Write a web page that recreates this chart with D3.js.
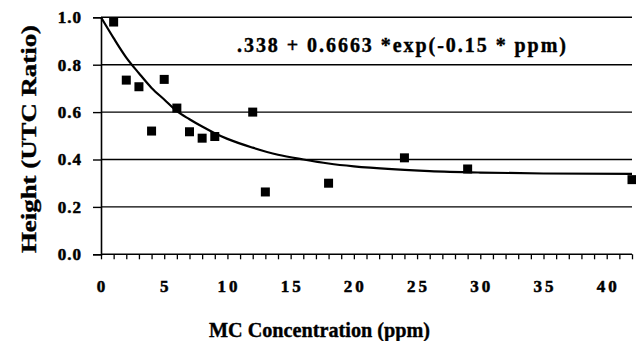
<!DOCTYPE html>
<html><head><meta charset="utf-8">
<script src="https://cdn.jsdelivr.net/npm/d3@7"></script>
<style>body{margin:0;background:#fff}svg{display:block}</style>
</head><body><div id="chart"></div>
<script>
// Observed data points
const ppm = [1, 2, 3, 4, 5, 6, 7, 8, 9, 12, 13, 18, 24, 29, 42];
const height = [0.98, 0.735, 0.707, 0.52, 0.738, 0.617, 0.517, 0.49, 0.497, 0.60, 0.263, 0.30, 0.407, 0.36, 0.315];
// Fitted curve
const fitX = [0, 1, 2, 3, 4, 5, 6, 7, 8, 9, 10, 12, 14, 16, 18, 20, 23, 26, 30, 35, 42];
const fitY = [1.0, 0.912, 0.83, 0.764, 0.702, 0.653, 0.604, 0.57, 0.539, 0.511, 0.487, 0.45, 0.42, 0.4, 0.383, 0.371, 0.359, 0.351, 0.345, 0.341, 0.339];
const yTicks = [0, 0.2, 0.4, 0.6, 0.8, 1.0];
const xTicks = [0, 5, 10, 15, 20, 25, 30, 35, 40];
const equation = ".338 + 0.6663 *exp(-0.15 * ppm)";
const xTitle = "MC Concentration (ppm)";
const yTitle = "Height (UTC Ratio)";

const FONT = "'Liberation Serif', 'Times New Roman', Times, 'DejaVu Serif', serif";
const W = 636, H = 341;
const svg = d3.select("#chart").append("svg").attr("width", W).attr("height", H)
  .attr("font-family", FONT).attr("font-weight", "bold");
const x = d3.scaleLinear().domain([0, 42]).range([101, 632]);
const y = d3.scaleLinear().domain([0, 1]).range([254.3, 17.3]);

// gridlines
svg.append("g").selectAll("line").data(yTicks.filter(d => d > 0)).join("line")
  .attr("x1", x(0)).attr("x2", x(42)).attr("y1", d => y(d)).attr("y2", d => y(d))
  .attr("stroke", "#000").attr("stroke-width", 1.4);

// y axis
const yAxis = d3.axisLeft(y).tickValues(yTicks).tickFormat(d3.format(".1f")).tickSize(8).tickPadding(11);
const gy = svg.append("g").attr("transform", `translate(${x(0)},0)`).call(yAxis)
  .attr("font-family", FONT).attr("font-size", 17).attr("font-weight", "bold");
gy.select(".domain").attr("stroke-width", 1.6);
gy.selectAll(".tick line").attr("stroke-width", 1.4);
gy.selectAll(".tick text").attr("letter-spacing", "1px")
  .attr("stroke", "#000").attr("stroke-width", 0.5);

// x axis
const xAxis = d3.axisBottom(x).tickValues(d3.range(0, 43, 1)).tickSize(5).tickFormat("");
const gx = svg.append("g").attr("transform", `translate(0,${y(0)})`).call(xAxis);
gx.select(".domain").attr("stroke-width", 1.6).attr("d", `M${x(0)},0H${x(42)}`);
gx.selectAll(".tick line").attr("stroke-width", 1.3);
svg.append("g").selectAll("text").data(xTicks).join("text")
  .attr("x", d => x(d) + 1.5).attr("y", 292).attr("text-anchor", "middle")
  .attr("font-size", 17).attr("letter-spacing", "3px")
  .attr("stroke", "#000").attr("stroke-width", 0.5)
  .text(d => d);

// fit curve
const line = d3.line().x((d, i) => x(fitX[i])).y(d => y(d)).curve(d3.curveMonotoneX);
svg.append("path").datum(fitY).attr("d", line).attr("fill", "none")
  .attr("stroke", "#000").attr("stroke-width", 2.2);

// points
const s = 9;
svg.append("g").selectAll("rect").data(ppm).join("rect")
  .attr("x", (d) => x(d) - s / 2).attr("y", (d, i) => y(height[i]) - s / 2)
  .attr("width", s).attr("height", s).attr("fill", "#000");

// equation
svg.append("text").attr("x", 237).attr("y", 51.5).attr("textLength", 329)
  .attr("lengthAdjust", "spacing").attr("font-size", 20)
  .attr("stroke", "#000").attr("stroke-width", 0.4).text(equation);

// titles
svg.append("text").attr("x", 209).attr("y", 336.5).attr("textLength", 221)
  .attr("lengthAdjust", "spacingAndGlyphs").attr("font-size", 22)
  .attr("stroke", "#000").attr("stroke-width", 0.4).text(xTitle);
svg.append("text").attr("transform", "translate(35.5,253) rotate(-90)").attr("textLength", 228)
  .attr("lengthAdjust", "spacingAndGlyphs").attr("font-size", 22)
  .attr("stroke", "#000").attr("stroke-width", 0.4).text(yTitle);
</script></body></html>
